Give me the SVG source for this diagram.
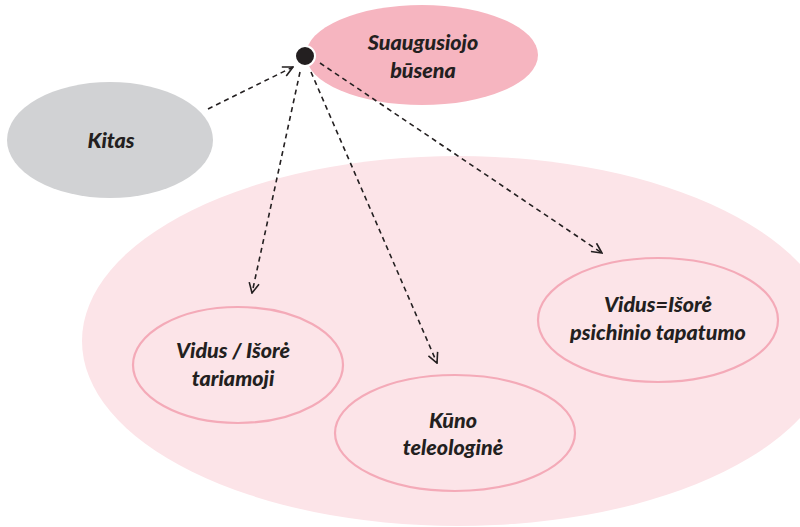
<svg xmlns="http://www.w3.org/2000/svg" width="800" height="527" viewBox="0 0 800 527">
<defs>
<style>
.lbl{font-family:Lato,"Open Sans","Liberation Sans",sans-serif;font-weight:900;font-style:italic;font-size:21.5px;fill:#231f20;text-anchor:middle}
.sub{fill:none;stroke:#f4aab8;stroke-width:2.2}
.con{fill:none;stroke:#231f20;stroke-width:1.6;stroke-dasharray:5 4;marker-end:url(#ah)}
</style>
<marker id="ah" viewBox="0 0 12 12" refX="11" refY="6" markerWidth="12" markerHeight="12" markerUnits="userSpaceOnUse" orient="auto">
<path d="M1,1 L11,6 L1,11" fill="none" stroke="#231f20" stroke-width="1.6"/>
</marker>
</defs>
<rect width="800" height="527" fill="#ffffff"/>
<g id="outer">
<ellipse cx="458" cy="341" rx="376" ry="185" fill="#fce4e8"/>
</g>
<g id="kitas">
<ellipse cx="110" cy="140" rx="103" ry="58" fill="#d1d2d4"/>
<text class="lbl" x="111" y="148">Kitas</text>
</g>
<g id="suaugusiojo">
<ellipse cx="422" cy="55" rx="116" ry="50" fill="#f6b5c0"/>
<text class="lbl" x="423" y="50">Suaugusiojo</text>
<text class="lbl" x="423" y="78">būsena</text>
</g>
<g id="dot">
<circle cx="305" cy="56" r="10" fill="#231f20" stroke="#ffffff" stroke-width="2"/>
</g>
<g id="tariamoji">
<ellipse class="sub" cx="238" cy="365" rx="105" ry="58"/>
<text class="lbl" x="233" y="358">Vidus / Išorė</text>
<text class="lbl" x="233" y="386">tariamoji</text>
</g>
<g id="teleologine">
<ellipse class="sub" cx="455" cy="433" rx="120" ry="58"/>
<text class="lbl" x="453" y="428">Kūno</text>
<text class="lbl" x="453" y="455">teleologinė</text>
</g>
<g id="psichinio">
<ellipse class="sub" cx="658" cy="320" rx="120" ry="62"/>
<text class="lbl" x="658" y="312">Vidus=Išorė</text>
<text class="lbl" x="658" y="340">psichinio tapatumo</text>
</g>
<g id="connectors">
<line class="con" x1="208" y1="109" x2="293" y2="67"/>
<line class="con" x1="300" y1="72" x2="252" y2="293"/>
<line class="con" x1="311" y1="72" x2="437" y2="363"/>
<line class="con" x1="320" y1="63" x2="602" y2="253"/>
</g>
</svg>
